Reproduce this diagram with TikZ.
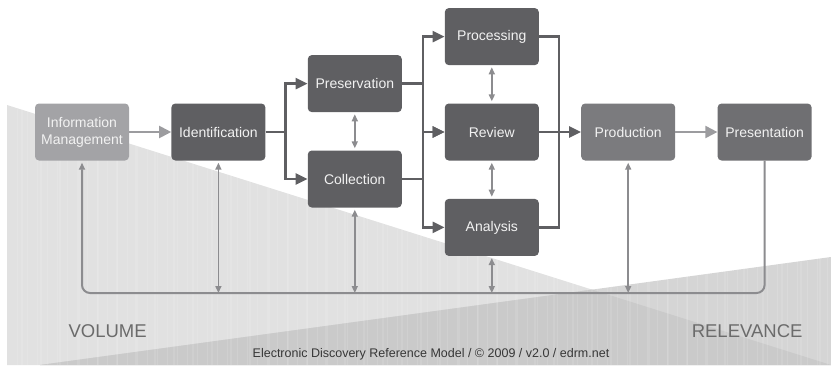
\documentclass[tikz,border=0pt]{standalone}
\usepackage{fontspec}
\setmainfont{Liberation Sans}
\definecolor{stage}{RGB}{95,95,98}
\definecolor{infogov}{RGB}{163,163,166}
\definecolor{produce}{RGB}{123,123,126}
\definecolor{present}{RGB}{111,111,114}
\definecolor{flowlight}{RGB}{156,156,159}
\definecolor{cycle}{RGB}{140,140,143}
\definecolor{volume}{RGB}{225,225,225}
\definecolor{relevance}{RGB}{213,213,213}
\definecolor{overlap}{RGB}{202,202,202}
\definecolor{caption}{RGB}{107,107,107}
\definecolor{footer}{RGB}{55,55,55}
\usetikzlibrary{
  arrows.meta,     % triangle tips
  positioning      % right=of, below=of
}
\tikzset{
  node distance=38pt and 42pt,
  box/.style = {
    rectangle,
    rounded corners=4pt,
    minimum width=94pt,
    minimum height=57pt,
    inner sep=2pt,
    align=center,
    text=white!95!black,
    font=\fontsize{14}{17}\selectfont
  },
  stage/.append style = {box, fill = stage},
  infogov/.append style = {box, fill = infogov},
  produce/.append style = {box, fill = produce},
  present/.append style = {box, fill = present},
  flow/.append style = {draw = stage, line width=2.5pt, -{Triangle[length=12pt,width=11pt]}},
  flowline/.append style = {draw = stage, line width=2.5pt},
  lightflow/.append style = {draw = flowlight, line width=2pt, -{Triangle[length=12pt,width=12pt]}},
  link/.append style = {draw = cycle, line width=1.6pt,
    {Triangle[length=7pt,width=6pt]}-{Triangle[length=7pt,width=6pt]}},
  feedback/.append style = {draw = cycle, line width=2pt, rounded corners=8pt},
  label/.append style = {text = caption, font=\fontsize{18.5}{20}\selectfont}
}

\begin{document}
\begin{tikzpicture}[x=1pt, y=-1pt]
\useasboundingbox (0,0) rectangle (831,365);

% background wedges
\fill[volume] (7,105) -- (831,365) -- (7,365) -- cycle;
\fill[relevance] (40,365) -- (831,257) -- (831,365) -- cycle;
\begin{scope}
  \clip (7,105) -- (831,365) -- (7,365) -- cycle;
  \fill[overlap] (40,365) -- (831,257) -- (831,365) -- cycle;
\end{scope}
% faint stripes on both wedges
\begin{scope}
  \clip (7,105) -- (831,365) -- (7,365) -- cycle
        (40,365) -- (831,257) -- (831,365) -- cycle;
  \foreach \x in {17,27,...,831}
    \draw[white, opacity=0.12, line width=0.7pt] (\x,100) -- (\x,365);
  \foreach \x in {22,41,...,831}
    \draw[white, opacity=0.1, line width=1.2pt] (\x,100) -- (\x,365);
\end{scope}

% stages
\node[infogov] (im) at (82,132) {Information\\Management};
\node[stage, right=42pt of im] (ident) {Identification};
\node[stage, above right=-9pt and 42pt of ident] (pres) {Preservation};
\node[stage, below=38pt of pres] (coll) {Collection};
\node[stage, right=179pt of ident] (review) {Review};
\node[stage, above=38pt of review] (proc) {Processing};
\node[stage, below=38pt of review] (ana) {Analysis};
\node[produce, right=42pt of review] (prod) {Production};
\node[present, right=42pt of prod] (presn) {Presentation};

\coordinate (base) at (0,293);

% main flow
\draw[lightflow] (im) -- (ident);
\draw[flow] (ident.east) -- ++(20,0) |- (pres.west);
\draw[flow] (ident.east) -- ++(20,0) |- (coll.west);
\draw[flow] (pres.east) -- ++(21,0) |- (proc.west);
\draw[flow] (pres.east) -- ++(21,0) |- (review.west);
\draw[flow] (coll.east) -- ++(21,0) |- (review.west);
\draw[flow] (coll.east) -- ++(21,0) |- (ana.west);
\draw[flowline] (proc.east) -- ++(20,0) |- (ana.east);
\draw[flow] (review) -- (prod);
\draw[lightflow] (prod) -- (presn);

% iteration
\draw[link, shorten <=2pt, shorten >=2pt] (pres) -- (coll);
\draw[link, shorten <=2pt, shorten >=2pt] (proc) -- (review);
\draw[link, shorten <=2pt, shorten >=2pt] (review) -- (ana);

% feedback loop
\draw[feedback, -{Triangle[length=7pt,width=6pt]}] (presn.south) |- (im.south |- base) -- ([yshift=-2pt]im.south);
\foreach \n in {ident, coll, ana, prod}
  \draw[link, shorten <=2pt] (\n.south) -- (\n.south |- base);

\node[label, anchor=base west] (vol) at (65,337) {VOLUME};
\node[label, anchor=base east] (rel) at (806,337) {RELEVANCE};
\node[anchor=base, text=footer, font=\fontsize{12.5}{14}\selectfont] (foot) at (431,357)
  {Electronic Discovery Reference Model / © 2009 / v2.0 / edrm.net};
\end{tikzpicture}
\end{document}
